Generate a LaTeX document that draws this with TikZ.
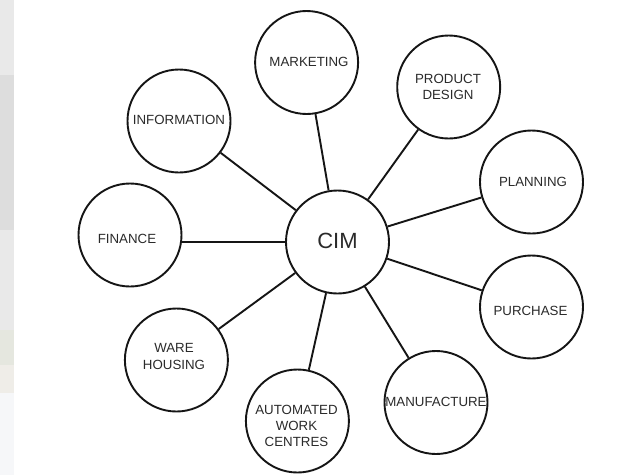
\documentclass[tikz,border=0pt]{standalone}
\usepackage{fontspec}
\setmainfont{Liberation Sans}
\begin{document}
\begin{tikzpicture}[x=1pt,y=-1pt,
  bubble/.style={circle,draw=linecol,line width=1.9pt,minimum size=103pt,inner sep=0pt},
  word/.style={align=center,inner sep=0pt,font=\fontsize{13.3}{16.2}\selectfont,text=textcol},
  link/.style={draw=linecol,line width=1.9pt}]
\definecolor{linecol}{HTML}{151515}
\definecolor{textcol}{HTML}{2A2A2A}
\definecolor{stripA}{HTML}{E9E9E9}
\definecolor{stripB}{HTML}{DDDDDD}
\definecolor{stripC}{HTML}{E5E7DF}
\definecolor{stripD}{HTML}{EFEDE8}
\definecolor{stripE}{HTML}{F6F7F9}
\useasboundingbox (0,0) rectangle (641,475);
\fill[white] (0,0) rectangle (641,475);
% faded background strip on the left
\fill[stripA] (0,0) rectangle (14,75);
\fill[stripB] (0,75) rectangle (14,230);
\fill[stripA] (0,230) rectangle (14,330);
\fill[stripC] (0,330) rectangle (14,365);
\fill[stripD] (0,365) rectangle (14,393);
\fill[stripE] (0,393) rectangle (14,475);

\node[bubble] (cim) at (337.5,242) {};
\node[bubble] (mkt) at (306.6,62.5) {};
\node[bubble] (pd) at (448.7,87) {};
\node[bubble] (inf) at (179,121) {};
\node[bubble] (pln) at (531.5,182) {};
\node[bubble] (fin) at (130,235) {};
\node[bubble] (pur) at (531.5,307) {};
\node[bubble] (war) at (176.4,360) {};
\node[bubble] (aut) at (297.4,421) {};
\node[bubble] (man) at (436,402.5) {};

\node[word,font=\fontsize{22}{24}\selectfont] (tcim) at (337.5,241) {CIM};
\node[word] (tmkt) at (309,62.3) {MARKETING};
\node[word] (tpd) at (448,86.7) {PRODUCT\\DESIGN};
\node[word] (tinf) at (179,120) {INFORMATION};
\node[word] (tpln) at (533,182.3) {PLANNING};
\node[word] (tfin) at (127,238.7) {FINANCE};
\node[word] (tpur) at (530.5,310.7) {PURCHASE};
\node[word] (twar) at (174,356.5) {WARE\\HOUSING};
\node[word] (taut) at (296.5,425.7) {AUTOMATED\\WORK\\CENTRES};
\node[word] (tman) at (436,401.7) {MANUFACTURE};

\foreach \n in {mkt,pd,inf,pln,pur,war,aut,man}
  \draw[link] (cim) -- (\n);
\draw[link] (cim.west) -- (cim.west -| fin.east);
\end{tikzpicture}
\end{document}
